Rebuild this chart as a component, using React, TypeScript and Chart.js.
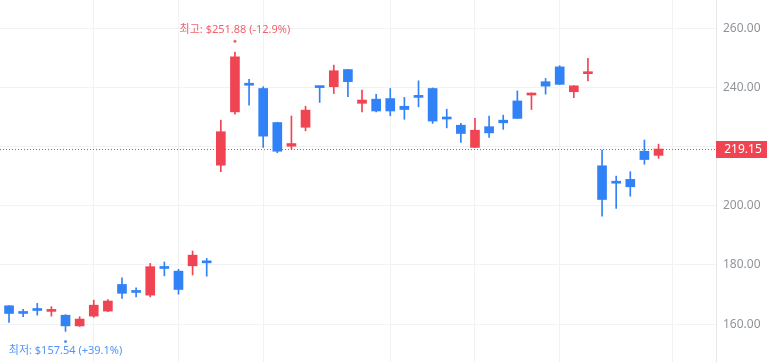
import React, { useEffect, useRef } from 'react';
import { Chart, registerables } from 'chart.js';

Chart.register(...registerables);

// ---- data ----
const opens = [166.2, 163.8, 165.2, 164.3, 163.0, 159.4, 162.7, 164.4, 173.4, 170.9, 169.8, 179.1, 177.9, 179.7, 181.0, 213.7, 231.7, 240.9, 239.6, 228.1, 220.1, 226.5, 240.2, 240.2, 246.0, 234.6, 236.0, 236.2, 233.6, 236.9, 239.6, 229.6, 227.2, 219.7, 226.7, 228.9, 235.4, 237.4, 241.9, 246.9, 238.5, 244.6, 213.5, 207.9, 208.9, 218.4, 217.0];
const highs = [166.3, 165.0, 167.0, 165.9, 163.2, 162.5, 168.1, 168.3, 175.6, 172.3, 180.5, 181.0, 178.5, 184.7, 182.2, 228.9, 251.88, 242.7, 240.2, 228.2, 230.3, 233.6, 240.4, 247.5, 246.1, 239.1, 237.6, 239.6, 236.6, 242.2, 239.8, 232.6, 227.8, 229.5, 230.3, 230.6, 238.8, 238.1, 243.0, 247.3, 240.6, 249.8, 218.8, 210.0, 211.5, 222.2, 220.8];
const lows = [160.6, 162.5, 163.0, 162.7, 157.54, 159.2, 162.3, 164.2, 168.7, 169.2, 169.2, 176.3, 170.1, 176.6, 176.2, 211.5, 230.9, 234.0, 219.7, 217.9, 219.1, 225.3, 234.9, 237.9, 236.8, 231.7, 231.7, 230.4, 229.2, 233.4, 227.8, 226.3, 221.4, 219.6, 223.1, 225.8, 229.4, 232.5, 237.7, 240.9, 236.5, 242.2, 196.5, 199.1, 203.2, 214.0, 216.0];
const closes = [163.6, 163.6, 164.6, 164.5, 159.4, 161.7, 166.4, 167.8, 170.4, 170.7, 179.4, 178.8, 171.7, 183.3, 180.7, 225.0, 250.3, 240.7, 223.5, 218.4, 221.0, 232.3, 239.9, 245.6, 241.9, 235.7, 232.0, 232.0, 232.5, 236.6, 228.6, 229.3, 224.4, 225.5, 224.6, 228.0, 229.5, 237.7, 240.4, 241.0, 240.5, 244.8, 202.1, 207.6, 206.4, 215.6, 219.15];

const yTickValues = [160, 180, 200, 220, 240, 260];
const hiddenTickLabels = [220];
const xGridPositions = [6, 12, 18, 27, 33, 39, 47];
const lastPrice = 219.15;
const highIndex = 16;
const lowIndex = 4;
const highLabel = '최고: $251.88 (-12.9%)';
const lowLabel = '최저: $157.54 (+39.1%)';

const UP = '#f04452';
const DOWN = '#3182f6';
const GRID = '#f1f2f4';
const TEXT = '#8f949a';
const FONT = '"Noto Sans", "Noto Sans CJK KR", sans-serif';

const overlay = {
  id: 'overlay',
  beforeDatasetsDraw(chart: any) {
    const { ctx, chartArea, scales } = chart;
    const py = Math.round(scales.y.getPixelForValue(lastPrice)) + 0.5;
    ctx.save();
    ctx.strokeStyle = UP;
    ctx.lineWidth = 1;
    ctx.setLineDash([1, 2]);
    ctx.beginPath();
    ctx.moveTo(chartArea.left, py);
    ctx.lineTo(chartArea.right, py);
    ctx.stroke();
    ctx.restore();
  },
  afterDraw(chart: any) {
    const { ctx, chartArea, scales } = chart;
    const x = scales.x;
    const y = scales.y;
    ctx.save();
    // last price badge
    const py = y.getPixelForValue(lastPrice);
    ctx.fillStyle = UP;
    ctx.fillRect(chartArea.right, Math.round(py - 8.5), 51, 17);
    ctx.fillStyle = '#ffffff';
    ctx.font = '12px ' + FONT;
    ctx.textAlign = 'center';
    ctx.textBaseline = 'middle';
    ctx.fillText(lastPrice.toFixed(2), chartArea.right + 27, py + 0.5);

    // high marker
    const hx = x.getPixelForValue(highIndex);
    const hy = y.getPixelForValue(highs[highIndex]);
    ctx.fillStyle = UP;
    ctx.globalAlpha = 0.85;
    ctx.beginPath();
    ctx.arc(hx, hy - 11, 1.5, 0, Math.PI * 2);
    ctx.fill();
    ctx.font = '11px ' + FONT;
    ctx.fillText(highLabel, hx, hy - 22);

    // low marker
    const lx = x.getPixelForValue(lowIndex);
    const ly = y.getPixelForValue(lows[lowIndex]);
    ctx.fillStyle = DOWN;
    ctx.beginPath();
    ctx.arc(lx, ly + 10, 1.5, 0, Math.PI * 2);
    ctx.fill();
    ctx.fillText(lowLabel, lx, ly + 19);
    ctx.restore();
  },
};

export default function App() {
  const ref = useRef<HTMLCanvasElement | null>(null);

  useEffect(() => {
    if (!ref.current) return;
    const idx = opens.map((_, i) => i);
    const colors = idx.map((i) => (closes[i] >= opens[i] ? UP : DOWN));
    const chart = new Chart(ref.current, {
      type: 'bar',
      data: {
        datasets: [
          {
            label: 'wick',
            data: idx.map((i) => ({ x: i, y: [lows[i], highs[i]] })) as any,
            backgroundColor: colors,
            borderWidth: 0,
            barThickness: 1,
            grouped: false,
            order: 2,
          },
          {
            label: 'body',
            data: idx.map((i) => ({ x: i, y: [opens[i], closes[i]] })) as any,
            backgroundColor: colors,
            borderWidth: 0,
            barThickness: 9,
            minBarLength: 2,
            grouped: false,
            order: 1,
          },
        ],
      },
      options: {
        responsive: false,
        maintainAspectRatio: false,
        devicePixelRatio: 1,
        animation: false,
        events: [],
        layout: { padding: 0 },
        plugins: { legend: { display: false }, tooltip: { enabled: false } },
        scales: {
          x: {
            type: 'linear',
            min: -0.64,
            max: 50.07,
            offset: false,
            grid: { offset: false, color: GRID, drawTicks: false },
            border: { display: false },
            ticks: { display: false },
            afterBuildTicks: (s: any) => {
              s.ticks = xGridPositions.map((v) => ({ value: v }));
            },
          },
          y: {
            type: 'linear',
            position: 'right',
            min: 147.2,
            max: 269.5,
            grid: { color: GRID, drawTicks: false },
            border: { display: true, color: '#e4e6ea' },
            ticks: {
              padding: 7,
              color: TEXT,
              font: { size: 12, family: FONT },
              callback: (v: any) => (hiddenTickLabels.includes(Number(v)) ? '' : Number(v).toFixed(2)),
            },
            afterBuildTicks: (s: any) => {
              s.ticks = yTickValues.map((v) => ({ value: v }));
            },
            afterFit: (s: any) => {
              s.width = 57;
              s.paddingTop = 0;
              s.paddingBottom = 0;
            },
          },
        },
      } as any,
      plugins: [overlay],
    });
    return () => chart.destroy();
  }, []);

  return (
    <div style={{ position: 'absolute', left: 0, top: 0, width: 773, height: 362, background: '#fff' }}>
      <canvas ref={ref} width={773} height={362} style={{ display: 'block' }} />
    </div>
  );
}
